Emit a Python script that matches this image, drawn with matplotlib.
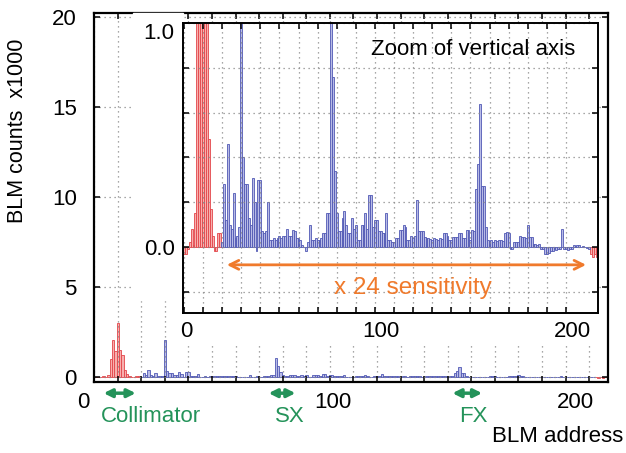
import matplotlib.pyplot as plt
import matplotlib.transforms as mtransforms
from matplotlib.patches import Rectangle
import numpy as np

plt.rcParams['font.family'] = ['Liberation Sans', 'DejaVu Sans']

# BLM loss per address, in units of the zoomed (x24) axis
loss = [
    -0.03, -0.03, -0.01, 0.02, 0.08, 0.01, 0.15, 1.2, 2.46, 1.74,      # 0-9
    3.6, 1.8, 1.44, 0.48, 0.17, 0.05, -0.02, -0.02, 0.06, 0.06,        # 10-19
    0.02, 0.28, 0.12, 0.46, 0.1, 0.08, 0.24, 0.04, 0.05, 0.09,         # 20-29
    2.46, 0.4, 0.28, 0.28, 0.13, 0.1, 0.31, 0.2, -0.02, 0.3,           # 30-39
    0.3, 0.07, 0.06, 0.07, 0.2, 0.03, 0.03, 0.04, 0.03, 0.04,          # 40-49
    0.05, 0.04, 0.05, 0.05, 0.08, 0.05, 0.05, 0.075, 0.07, 0.04,       # 50-59
    0.04, 0.03, 0.01, 0.0, -0.02, 0.02, 0.1, 0.03, 0.03, 0.04,         # 60-69
    0.03, 0.03, 0.04, 0.06, 0.06, 0.15, 0.15, 1.26, 0.76, 0.34,        # 70-79
    0.15, 0.07, 0.07, 0.13, 0.16, 0.1, 0.06, 0.06, 0.13, 0.08,         # 80-89
    0.1, 0.03, 0.03, 0.1, 0.1, 0.15, 0.08, 0.23, 0.23, 0.09,           # 90-99
    0.12, 0.12, 0.07, 0.07, 0.06, 0.06, 0.15, 0.03, 0.03, 0.02,        # 100-109
    0.02, 0.04, 0.04, 0.075, 0.075, 0.1, 0.09, 0.03, 0.03, 0.05,       # 110-119
    0.04, 0.05, 0.21, 0.07, 0.07, 0.07, 0.045, 0.04, 0.04, 0.035,      # 120-129
    0.03, 0.04, 0.035, 0.03, 0.04, 0.035, 0.06, 0.06, 0.05, 0.03,      # 130-139
    0.03, 0.045, 0.045, 0.045, 0.06, 0.06, 0.04, 0.04, 0.075, 0.075,   # 140-149
    0.03, 0.075, 0.07, 0.26, 0.37, 0.64, 0.27, 0.27, 0.09, 0.03,       # 150-159
    0.025, 0.03, 0.02, 0.03, 0.025, 0.03, 0.03, 0.025, 0.06, 0.065,    # 160-169
    0.06, -0.01, -0.01, 0.02, 0.02, 0.02, 0.05, 0.045, 0.045, 0.04,    # 170-179
    0.1, 0.045, 0.045, 0.015, 0.015, 0.01, 0.015, -0.01, -0.01, -0.03, # 180-189
    -0.03, -0.025, -0.02, -0.02, -0.01, -0.015, -0.01, -0.01, 0.08, -0.01,  # 190-199
    -0.01, -0.015, -0.01, -0.01, 0.01, 0.005, 0.01, 0.01, 0.0, 0.005,  # 200-209
    0.0, -0.005, -0.01, -0.03, -0.045, -0.03, -0.045, -0.03,           # 210-217
]
loss = np.array(loss)
address = np.arange(len(loss))
collimator = (address < 20) | (address > 212)

main_scale = 20 / 24   # main axis in counts x1000, inset is 24x more sensitive

red_edge, red_fill = '#e3454a', '#f7b0ae'
blue_edge, blue_fill = '#5058b4', '#b8bbe6'
green = '#24935a'
orange = '#f07a2c'
grid_kw = dict(color='#8a8a8a', linestyle=(0, (1, 3)), linewidth=0.9)


def draw_bars(a, values):
    a.bar(address[collimator], values[collimator], width=1.0, color=red_fill,
          edgecolor=red_edge, linewidth=0.6)
    a.bar(address[~collimator], values[~collimator], width=1.0, color=blue_fill,
          edgecolor=blue_edge, linewidth=0.6)


def shift_labels(labels, offsets, fig):
    for lab, dx in zip(labels, offsets):
        lab.set_transform(lab.get_transform() +
                          mtransforms.ScaledTranslation(dx / 72, 0, fig.dpi_scale_trans))


fig = plt.figure(figsize=(6.26, 4.53), dpi=100)

# main axes
ax = fig.add_axes([0.1494, 0.1567, 0.8218, 0.8146])
draw_bars(ax, loss * main_scale)
ax.set_xlim(-0.3, 218)
ax.set_ylim(-0.28, 20.22)
xt = np.arange(0, 220, 10)
ax.set_xticks(xt, [str(v) if v % 100 == 0 else '' for v in xt])
ax.set_yticks([0, 5, 10, 15, 20])
ax.tick_params(direction='in', top=True, right=True, length=4, width=1.1,
               labelsize=16)
ax.tick_params(axis='x', pad=7)
ax.tick_params(axis='y', pad=12)
ax.grid(True, **grid_kw)
for s in ax.spines.values():
    s.set_linewidth(1.6)
shift_labels([t for t in ax.get_xticklabels() if t.get_text()], [-8, 2, 7], fig)

# white area behind the inset and its labels
fig.patches.append(Rectangle((133 / 626, 1 - 300 / 453), 50 / 626, 287 / 453,
                             transform=fig.transFigure, color='white', zorder=1))
fig.patches.append(Rectangle((183 / 626, 1 - 343 / 453), 415 / 626, 30 / 453,
                             transform=fig.transFigure, color='white', zorder=1))

# inset: zoom of vertical axis
ins = fig.add_axes([0.2923, 0.3091, 0.663, 0.6401])
ins.set_zorder(2)
draw_bars(ins, loss)
ins.set_xlim(-0.5, 216.8)
ins.set_ylim(-0.295, 1.0)
ins.set_xticks(xt[:-1], [str(v) if v % 100 == 0 else '' for v in xt[:-1]])
yt = np.round(np.arange(-0.2, 1.01, 0.2), 1)
ins.set_yticks(yt, ['0.0' if v == 0 else ('1.0' if v == 1.0 else '') for v in yt])
ins.tick_params(direction='in', top=True, right=True, length=4, width=1.1,
                labelsize=16)
ins.tick_params(axis='x', pad=6)
ins.tick_params(axis='y', pad=6)
ins.grid(True, **grid_kw)
for s in ins.spines.values():
    s.set_linewidth(1.4)
shift_labels([t for t in ins.get_xticklabels() if t.get_text()], [2, 4, 5], fig)
for t in ins.get_yticklabels():
    if t.get_text() == '1.0':
        t.set_verticalalignment('top')

ins.text(0.70, 0.91, 'Zoom of vertical axis', transform=ins.transAxes,
         ha='center', va='center', fontsize=16)
ins.annotate('', xy=(21, -0.08), xytext=(212, -0.08),
             arrowprops=dict(arrowstyle='<->', color=orange, lw=2,
                             mutation_scale=16))
ins.text(120, -0.185, 'x 24 sensitivity', color=orange, ha='center',
         va='center', fontsize=17.5)

# machine sections under the main axis
sections = ['Collimator', 'SX', 'FX']
sec_start = [4, 74, 152]
sec_end = [17.6, 85.4, 164.6]
sec_label_x = [24, 83, 161]
for name, x0, x1, xl in zip(sections, sec_start, sec_end, sec_label_x):
    ax.annotate('', xy=(x0, -0.9), xytext=(x1, -0.9), annotation_clip=False,
                arrowprops=dict(arrowstyle='<|-|>', color=green, lw=2.5,
                                mutation_scale=12, shrinkA=0, shrinkB=0))
    ax.text(xl, -2.2, name, color=green, ha='center', va='center',
            fontsize=16, clip_on=False)

fig.text(623 / 626, 1 - 437 / 453, 'BLM address', ha='right', va='center',
         fontsize=16)
fig.text(18 / 626, 1 - 131 / 453, 'BLM counts  x1000', rotation=90,
         ha='center', va='center', fontsize=15.5)

fig.savefig('out.png', dpi=100)
